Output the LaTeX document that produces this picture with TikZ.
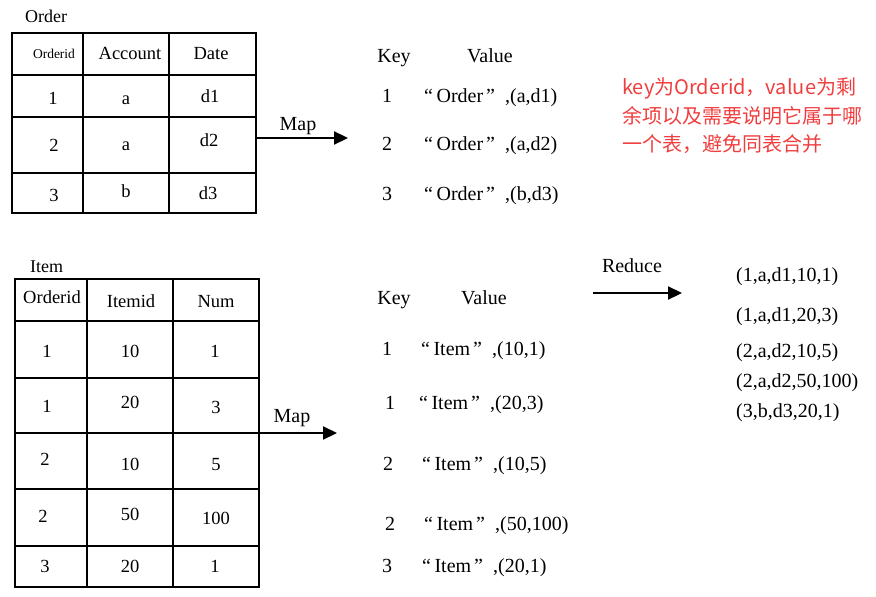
\documentclass[tikz,border=0pt]{standalone}
\usepackage{fontspec}
\setmainfont{Liberation Serif}
\newfontfamily\cjk{Noto Sans CJK SC}
\usetikzlibrary{arrows.meta}
\definecolor{redtxt}{RGB}{240,62,62}
\newcommand{\oq}{“\hspace{3.5pt}}
\newcommand{\cq}{\hspace{3pt}”\hspace{10pt}}
\begin{document}
\begin{tikzpicture}[x=1pt,y=-1pt,
  txt/.style={inner sep=0pt, anchor=base, font=\fontsize{20}{24}\selectfont},
  ltxt/.style={txt, anchor=base west},
  cell/.style={inner sep=0pt, anchor=base, font=\fontsize{18.5}{22}\selectfont},
  captxt/.style={inner sep=0pt, anchor=base west, font=\fontsize{18}{21}\selectfont},
  tbl/.style={draw, inner sep=0pt},
  thin grid/.style={line width=1.3pt},
  thick grid/.style={line width=2.2pt},
  arr/.style={line width=2.2pt, -{Triangle[length=14pt,width=13pt]}},
  note/.style={inner sep=0pt, anchor=base west, text=redtxt, font=\cjk\fontsize{20}{28}\selectfont}
]
\useasboundingbox (0,0) rectangle (876,597);

% ---------------- Order table ----------------
\node[captxt] (ordcap) at (25,23) {Order};
\node[tbl, line width=1.3pt, minimum width=244pt, minimum height=180pt] (orderT) at (134,123) {};
\draw[thin grid] (83,33) -- (83,213) (169,33) -- (169,213);
\draw[thin grid] (12,75) -- (256,75) (12,117) -- (256,117) (12,173) -- (256,173);
\node[cell, font=\fontsize{13.5}{16}\selectfont] (oh1) at (54,58) {Orderid};
\node[cell] (oh2) at (130,59) {Account};
\node[cell] (oh3) at (211,59) {Date};
\node[cell] (o11) at (53,104) {1};
\node[cell] (o12) at (126,104) {a};
\node[cell] (o13) at (210,102) {d1};
\node[cell] (o21) at (54,151) {2};
\node[cell] (o22) at (126,150) {a};
\node[cell] (o23) at (209,146) {d2};
\node[cell] (o31) at (54,201) {3};
\node[cell] (o32) at (126,197) {b};
\node[cell] (o33) at (208,199) {d3};

% ---------------- Item table ----------------
\node[captxt] (itcap) at (30,272) {Item};
\node[tbl, line width=2.2pt, minimum width=244pt, minimum height=308pt] (itemT) at (137,433) {};
\draw[thick grid] (87,279) -- (87,587);
\draw[thin grid] (173,279) -- (173,587);
\draw[thin grid] (15,321) -- (259,321) (15,378) -- (259,378) (15,433) -- (259,433) (15,546) -- (259,546);
\draw[thick grid] (15,489) -- (259,489);
\node[cell] (ih1) at (52,303) {Orderid};
\node[cell] (ih2) at (131,307) {Itemid};
\node[cell] (ih3) at (216,307) {Num};
\node[cell] (i11) at (47,357) {1};
\node[cell] (i12) at (130,357) {10};
\node[cell] (i13) at (215,357) {1};
\node[cell] (i21) at (47,412) {1};
\node[cell] (i22) at (130,408) {20};
\node[cell] (i23) at (216,413) {3};
\node[cell] (i31) at (45,465) {2};
\node[cell] (i32) at (130,470) {10};
\node[cell] (i33) at (216,470) {5};
\node[cell] (i41) at (43,522) {2};
\node[cell] (i42) at (130,520) {50};
\node[cell] (i43) at (216,524) {100};
\node[cell] (i51) at (45,572) {3};
\node[cell] (i52) at (130,572) {20};
\node[cell] (i53) at (215,572) {1};

% ---------------- Map 1 ----------------
\coordinate (m1end) at (348,138);
\draw[arr] (orderT.east |- m1end) -- (m1end);
\node[txt] (map1) at (298,130) {Map};

\node[txt] (k1) at (394,62) {Key};
\node[txt] (v1) at (490,62) {Value};
\node[txt] (k1a) at (387,102) {1};
\node[ltxt] (v1a) at (424,102) {\oq Order\cq,(a,d1)};
\node[txt] (k1b) at (387,150) {2};
\node[ltxt] (v1b) at (424,150) {\oq Order\cq,(a,d2)};
\node[txt] (k1c) at (387,200) {3};
\node[ltxt] (v1c) at (424,200) {\oq Order\cq,(b,d3)};

% ---------------- note ----------------
\node[note] (n1) at (622,94) {key为Orderid，value为剩};
\node[note] (n2) at (622,123) {余项以及需要说明它属于哪};
\node[note] (n3) at (622,151) {一个表，避免同表合并};

% ---------------- Map 2 ----------------
\coordinate (m2end) at (337,433);
\draw[arr] (itemT.east |- m2end) -- (m2end);
\node[txt] (map2) at (292,422) {Map};

\node[txt] (k2) at (394,304) {Key};
\node[txt] (v2) at (484,304) {Value};
\node[txt] (k2a) at (387,355) {1};
\node[ltxt] (v2a) at (421,355) {\oq Item\cq,(10,1)};
\node[txt] (k2b) at (390,409) {1};
\node[ltxt] (v2b) at (419,409) {\oq Item\cq,(20,3)};
\node[txt] (k2c) at (388,470) {2};
\node[ltxt] (v2c) at (422,470) {\oq Item\cq,(10,5)};
\node[txt] (k2d) at (390,530) {2};
\node[ltxt] (v2d) at (424,530) {\oq Item\cq,(50,100)};
\node[txt] (k2e) at (387,572) {3};
\node[ltxt] (v2e) at (422,572) {\oq Item\cq,(20,1)};

% ---------------- Reduce ----------------
\coordinate (rstart) at (593,293);
\coordinate (rend) at (682,293);
\draw[arr] (rstart) -- (rend);
\node[txt] (red) at (632,272) {Reduce};

\node[ltxt] (r1) at (736,281) {(1,a,d1,10,1)};
\node[ltxt] (r2) at (736,321) {(1,a,d1,20,3)};
\node[ltxt] (r3) at (736,357) {(2,a,d2,10,5)};
\node[ltxt] (r4) at (736,387) {(2,a,d2,50,100)};
\node[ltxt] (r5) at (736,417) {(3,b,d3,20,1)};
\end{tikzpicture}
\end{document}
